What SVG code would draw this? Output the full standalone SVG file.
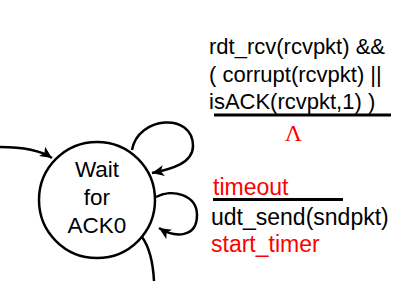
<svg xmlns="http://www.w3.org/2000/svg" width="413" height="281" viewBox="0 0 413 281">
<defs>
<style>
.t{font-family:"Liberation Sans",Arial,sans-serif;fill:#000}
.r{fill:#ff0000}
.ln{fill:none;stroke:#000;stroke-width:2.5}
</style>
<marker id="ah" markerUnits="userSpaceOnUse" markerWidth="13" markerHeight="11" refX="12" refY="5.5" orient="auto" viewBox="0 0 13 11">
<path d="M0,0 L12,5.5 L0,11 L3,5.5 z" fill="#000"/>
</marker>
</defs>
<rect width="413" height="281" fill="#fff"/>
<g id="connectors">
<path class="ln" d="M0,147 C20,147 40,150 52,158" marker-end="url(#ah)"/>
<path class="ln" d="M132,150 C138,116 193,112 193,146 C193,163 172,169 152,173" marker-end="url(#ah)"/>
<path class="ln" d="M156,197 C172,188 197,195 197,215 C197,238 175,238 159,228" marker-end="url(#ah)"/>
<path class="ln" d="M142,237 C150,248 153,262 154,281"/>
</g>
<g id="wait_ack0">
<circle cx="97" cy="200" r="58" fill="#fff" stroke="#000" stroke-width="2.5"/>
<text class="t" font-size="22.5" text-anchor="middle"><tspan x="97" y="177">Wait</tspan><tspan x="97" y="205">for</tspan><tspan x="97" y="233">ACK0</tspan></text>
</g>
<g id="label_top">
<text class="t" font-size="22"><tspan x="209" y="54">rdt_rcv(rcvpkt) &amp;&amp;</tspan><tspan x="209" y="81.5">( corrupt(rcvpkt) ||</tspan><tspan x="209" y="109">isACK(rcvpkt,1) )</tspan></text>
<line x1="214" y1="115" x2="391" y2="115" stroke="#000" stroke-width="3"/>
<text x="293.5" y="141" font-family="'Liberation Serif','Times New Roman',serif" font-size="24" text-anchor="middle" class="r">Λ</text>
</g>
<g id="label_timeout">
<text class="t r" x="213" y="195" font-size="23">timeout</text>
<line x1="213" y1="199.5" x2="343" y2="199.5" stroke="#000" stroke-width="3"/>
<text class="t" x="211" y="224.5" font-size="23">udt_send(sndpkt)</text>
<text class="t r" x="211" y="252" font-size="23">start_timer</text>
</g>
</svg>
